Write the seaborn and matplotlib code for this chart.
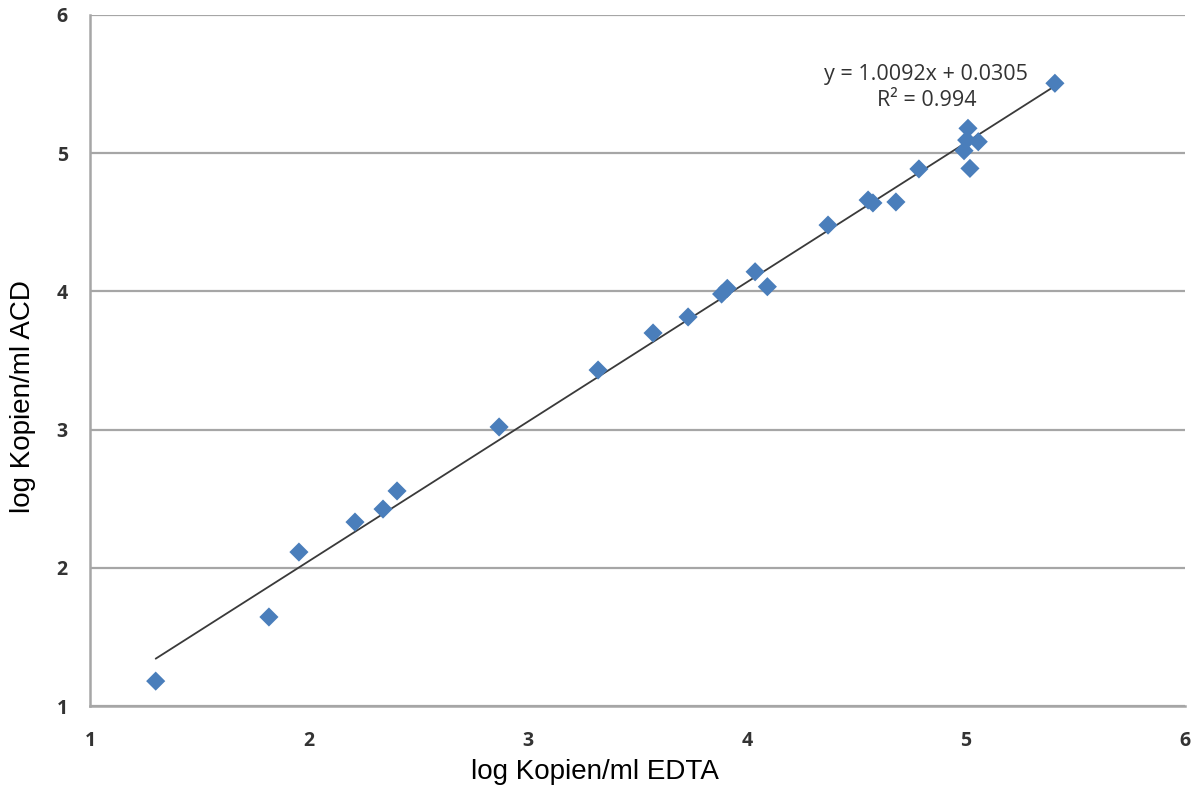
import numpy as np
import pandas as pd
import matplotlib
matplotlib.use("Agg")
import matplotlib.pyplot as plt
import seaborn as sns

# Data
edta = [1.30, 1.817, 1.954, 2.21, 2.338, 2.402, 2.868, 3.320, 3.571, 3.731,
        3.884, 3.910, 4.037, 4.093, 4.37, 4.553, 4.575, 4.68, 4.785,
        4.991, 5.003, 5.009, 5.018, 5.056, 5.406]
acd = [1.18, 1.644, 2.114, 2.331, 2.425, 2.556, 3.019, 3.431, 3.699, 3.815,
       3.981, 4.022, 4.142, 4.034, 4.48, 4.661, 4.64, 4.647, 4.886,
       5.018, 5.095, 5.180, 4.890, 5.083, 5.506]
slope = 1.0092
intercept = 0.0305
r2 = 0.994
ticks = [1, 2, 3, 4, 5, 6]
xlabel = "log Kopien/ml EDTA"
ylabel = "log Kopien/ml ACD"

df = pd.DataFrame({"EDTA": edta, "ACD": acd})

sns.set_theme(style="white")
plt.rcParams['font.family'] = ['Liberation Sans', 'DejaVu Sans']

W, H = 1204, 791
fig = plt.figure(figsize=(W / 100, H / 100), dpi=100)
ax = fig.add_axes([90 / W, 85 / H, (1185 - 90) / W, (706 - 15) / H])

# trendline
xs = np.array([min(edta), max(edta)])
ax.plot(xs, slope * xs + intercept, color="#3a3a3a", lw=1.3, zorder=2)

sns.scatterplot(data=df, x="EDTA", y="ACD", marker="D", s=95, color="#4a7ebb",
                edgecolor="none", linewidth=0, ax=ax, zorder=3)

ax.set_xlim(1, 6)
ax.set_ylim(1, 6)
ax.set_xticks(ticks)
ax.set_yticks(ticks)
ax.set_xticklabels([str(t) for t in ticks])
ax.set_yticklabels([str(t) for t in ticks])

ax.yaxis.grid(True, color="#a6a6a6", lw=1.6)
ax.xaxis.grid(False)
ax.set_axisbelow(True)
for s in ["top", "right"]:
    ax.spines[s].set_visible(False)
for s in ["left", "bottom"]:
    ax.spines[s].set_color("#a6a6a6")
    ax.spines[s].set_linewidth(1.8)

ax.tick_params(axis="both", which="major", direction="out", length=6, width=1.6,
               color="#a6a6a6", labelsize=14, labelcolor="#333333")
ax.tick_params(axis="x", pad=12)
ax.tick_params(axis="y", pad=10)
for lab in ax.get_xticklabels() + ax.get_yticklabels():
    lab.set_fontweight("bold")
    lab.set_family(["Open Sans", "DejaVu Sans"])

ax.set_xlabel("")
ax.set_ylabel("")
fig.text(595 / W, 1 - 772 / H, xlabel, ha="center", va="center",
         fontsize=20, color="#000000")
fig.text(23 / W, 1 - 397 / H, ylabel, ha="center", va="center",
         rotation=90, fontsize=20, color="#000000")

ax.text(4.817, 5.573, f"y = {slope}x + {intercept}", ha="center", va="center",
        fontsize=15.5, color="#333333", family=["Open Sans", "DejaVu Sans"])
ax.text(4.82, 5.378, f"R² = {r2}", ha="center", va="center",
        fontsize=15.5, color="#333333", family=["Open Sans", "DejaVu Sans"])

fig.savefig("out.png", dpi=100)
